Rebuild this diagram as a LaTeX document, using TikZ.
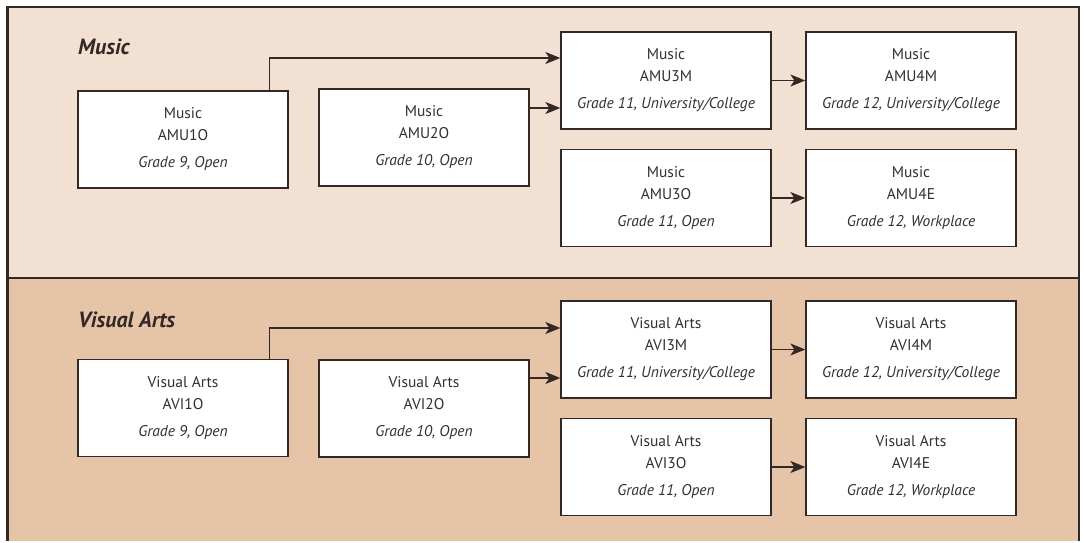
\documentclass[tikz,border=0pt]{standalone}
\usepackage{fontspec}
\setmainfont{PT Sans}
\usetikzlibrary{arrows.meta,calc}
\definecolor{upperbg}{RGB}{242,225,210}
\definecolor{lowerbg}{RGB}{229,196,168}
\definecolor{inkline}{RGB}{51,40,36}
\definecolor{inktext}{RGB}{50,47,47}
\tikzset{
  course/.style={draw=inkline, line width=1.3pt, fill=white, minimum width=210pt, minimum height=97pt,
    inner sep=0pt, align=center, text=inktext, font=\fontsize{15.5}{22}\selectfont},
  sectitle/.style={anchor=west, inner sep=0pt, text=inkline, font=\fontsize{22}{24}\selectfont\bfseries\itshape},
  flow/.style={draw=inkline, line width=1.3pt, -{Stealth[length=15pt,width=12pt,inset=4pt]}}
}
\newcommand{\crs}[3]{#1\\#2\\[5pt]\textit{#3}}
\begin{document}
\begin{tikzpicture}[x=1pt,y=-1pt]
\useasboundingbox (0,0) rectangle (1084,543);
% backgrounds
\fill[upperbg] (7,7) rectangle (1079,278);
\fill[lowerbg] (7,278) rectangle (1079,541);
\draw[inkline, line width=1.2pt] (7,7) -- (1079,7) -- (1079,541);
\draw[inkline, line width=1.2pt] (7,278) -- (1079,278);
\draw[inkline, line width=3pt] (7,6) -- (7,541);
% titles
\node[sectitle] (tmus) at (78,47) {Music};
\node[sectitle] (tvis) at (78,320) {Visual Arts};
% Music boxes
\node[course] (m1) at (183,139.5) {\crs{Music}{AMU1O}{Grade 9, Open}};
\node[course] (m2) at (424,137.5) {\crs{Music}{AMU2O}{Grade 10, Open}};
\node[course] (m3m) at (666,80.5) {\crs{Music}{AMU3M}{Grade 11, University/College}};
\node[course] (m4m) at (911,80.5) {\crs{Music}{AMU4M}{Grade 12, University/College}};
\node[course] (m3o) at (666,198) {\crs{Music}{AMU3O}{Grade 11, Open}};
\node[course] (m4e) at (911,198) {\crs{Music}{AMU4E}{Grade 12, Workplace}};
% Visual Arts boxes
\node[course] (v1) at (183,408) {\crs{Visual Arts}{AVI1O}{Grade 9, Open}};
\node[course] (v2) at (424,408.5) {\crs{Visual Arts}{AVI2O}{Grade 10, Open}};
\node[course] (v3m) at (666,349.5) {\crs{Visual Arts}{AVI3M}{Grade 11, University/College}};
\node[course] (v4m) at (911,349.5) {\crs{Visual Arts}{AVI4M}{Grade 12, University/College}};
\node[course] (v3o) at (666,467) {\crs{Visual Arts}{AVI3O}{Grade 11, Open}};
\node[course] (v4e) at (911,467) {\crs{Visual Arts}{AVI4E}{Grade 12, Workplace}};
% Music connectors
\coordinate (m1up) at ($(m1.north east)+(-19,0)$);
\draw[flow] (m1up) |- ($(m3m.west)+(0,-22.5)$);
\coordinate (m2out) at ($(m2.east)+(0,-29.5)$);
\draw[flow] (m2out) -- (m2out -| m3m.west);
\draw[flow] (m3m) -- (m4m);
\draw[flow] (m3o) -- (m4e);
% Visual Arts connectors
\coordinate (v1up) at ($(v1.north east)+(-19,0)$);
\draw[flow] (v1up) |- ($(v3m.west)+(0,-21.5)$);
\coordinate (v2out) at ($(v2.east)+(0,-30.5)$);
\draw[flow] (v2out) -- (v2out -| v3m.west);
\draw[flow] (v3m) -- (v4m);
\draw[flow] (v3o) -- (v4e);
\end{tikzpicture}
\end{document}
